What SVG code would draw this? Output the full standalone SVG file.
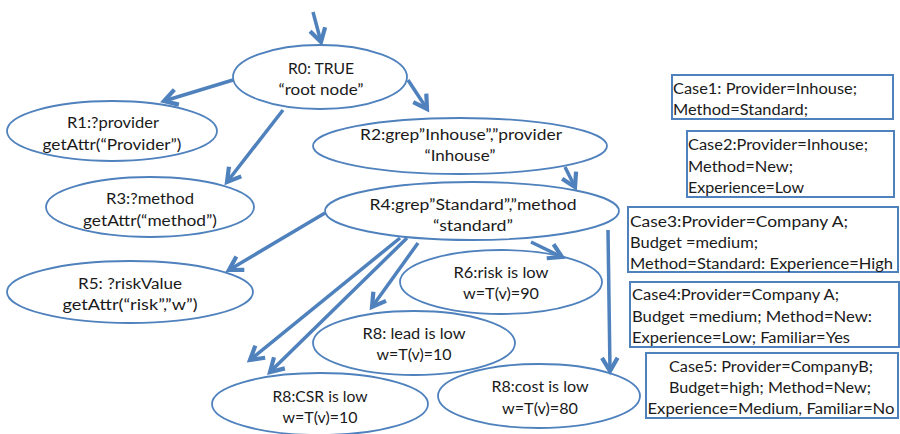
<svg xmlns="http://www.w3.org/2000/svg" width="900" height="434" viewBox="0 0 900 434">
  <style>
    .node ellipse { fill: #ffffff; stroke: #4f81bd; stroke-width: 1.8; }
    .case rect { fill: #ffffff; stroke: #4f81bd; stroke-width: 2; }
    text { font-family: Lato, "Open Sans", "Liberation Sans", sans-serif; font-size: 15.5px; fill: #1a1a1a; }
    .c { text-anchor: middle; }
    .edges line { stroke: #4f81bd; stroke-width: 3.5; marker-end: url(#head); }
  </style>
  <defs>
    <marker id="head" markerUnits="userSpaceOnUse" markerWidth="24" markerHeight="24" viewBox="-14 -10 18 20" refX="0" refY="0" orient="auto">
      <path d="M -11 -6.5 L 0 0 L -11 6.5" fill="none" stroke="#4f81bd" stroke-width="3.5" stroke-linejoin="miter"/>
    </marker>
  </defs>
  <rect width="900" height="434" fill="#ffffff"/>

  <!-- rule tree nodes -->
  <g id="R0" class="node">
    <ellipse cx="320" cy="77" rx="87" ry="32"/>
    <text class="c" x="321" y="74" textLength="66" lengthAdjust="spacingAndGlyphs">R0: TRUE</text>
    <text class="c" x="321" y="95" textLength="85" lengthAdjust="spacingAndGlyphs">“root node”</text>
  </g>
  <g id="R1" class="node">
    <ellipse cx="112" cy="131" rx="105" ry="30"/>
    <text class="c" x="113" y="128" textLength="92" lengthAdjust="spacingAndGlyphs">R1:?provider</text>
    <text class="c" x="112" y="150" textLength="139" lengthAdjust="spacingAndGlyphs">getAttr(“Provider”)</text>
  </g>
  <g id="R2" class="node">
    <ellipse cx="460" cy="146" rx="147" ry="28"/>
    <text class="c" x="461" y="140" textLength="202" lengthAdjust="spacingAndGlyphs">R2:grep”Inhouse”,”provider</text>
    <text class="c" x="460" y="161" textLength="71" lengthAdjust="spacingAndGlyphs">“Inhouse”</text>
  </g>
  <g id="R3" class="node">
    <ellipse cx="150" cy="207" rx="104" ry="30"/>
    <text class="c" x="150" y="204" textLength="88" lengthAdjust="spacingAndGlyphs">R3:?method</text>
    <text class="c" x="150" y="226" textLength="134" lengthAdjust="spacingAndGlyphs">getAttr(“method”)</text>
  </g>
  <g id="R4" class="node">
    <ellipse cx="472" cy="211" rx="147" ry="29"/>
    <text class="c" x="473" y="210" textLength="207" lengthAdjust="spacingAndGlyphs">R4:grep”Standard”,”method</text>
    <text class="c" x="473" y="231" textLength="80" lengthAdjust="spacingAndGlyphs">“standard”</text>
  </g>
  <g id="R5" class="node">
    <ellipse cx="130" cy="292" rx="123" ry="31"/>
    <text class="c" x="130" y="289" textLength="104" lengthAdjust="spacingAndGlyphs">R5: ?riskValue</text>
    <text class="c" x="130" y="310" textLength="135" lengthAdjust="spacingAndGlyphs">getAttr(“risk”,”w”)</text>
  </g>
  <g id="R6" class="node">
    <ellipse cx="501" cy="282" rx="101" ry="32"/>
    <text class="c" x="501" y="278" textLength="95" lengthAdjust="spacingAndGlyphs">R6:risk is low</text>
    <text class="c" x="501" y="299" textLength="76" lengthAdjust="spacingAndGlyphs">w=T(v)=90</text>
  </g>
  <g id="R8-lead" class="node">
    <ellipse cx="414" cy="343" rx="101" ry="32"/>
    <text class="c" x="414" y="339" textLength="103" lengthAdjust="spacingAndGlyphs">R8: lead is low</text>
    <text class="c" x="414" y="360" textLength="75" lengthAdjust="spacingAndGlyphs">w=T(v)=10</text>
  </g>
  <g id="R8-csr" class="node">
    <ellipse cx="320" cy="404" rx="108" ry="31"/>
    <text class="c" x="320" y="402" textLength="95" lengthAdjust="spacingAndGlyphs">R8:CSR is low</text>
    <text class="c" x="320" y="423" textLength="75" lengthAdjust="spacingAndGlyphs">w=T(v)=10</text>
  </g>
  <g id="R8-cost" class="node">
    <ellipse cx="539" cy="396" rx="101" ry="32"/>
    <text class="c" x="540" y="392" textLength="97" lengthAdjust="spacingAndGlyphs">R8:cost is low</text>
    <text class="c" x="540" y="414" textLength="76" lengthAdjust="spacingAndGlyphs">w=T(v)=80</text>
  </g>

  <!-- case boxes -->
  <g id="Case1" class="case">
    <rect x="672" y="75" width="221" height="44"/>
    <text x="673" y="94" textLength="184" lengthAdjust="spacingAndGlyphs">Case1: Provider=Inhouse;</text>
    <text x="673" y="115" textLength="135" lengthAdjust="spacingAndGlyphs">Method=Standard;</text>
  </g>
  <g id="Case2" class="case">
    <rect x="687" y="131" width="207" height="66"/>
    <text x="688" y="150" textLength="180" lengthAdjust="spacingAndGlyphs">Case2:Provider=Inhouse;</text>
    <text x="688" y="172" textLength="105" lengthAdjust="spacingAndGlyphs">Method=New;</text>
    <text x="688" y="193" textLength="116" lengthAdjust="spacingAndGlyphs">Experience=Low</text>
  </g>
  <g id="Case3" class="case">
    <rect x="628" y="207" width="270" height="65"/>
    <text x="630" y="227" textLength="218" lengthAdjust="spacingAndGlyphs">Case3:Provider=Company A;</text>
    <text x="630" y="248" textLength="128" lengthAdjust="spacingAndGlyphs">Budget =medium;</text>
    <text x="630" y="269" textLength="263" lengthAdjust="spacingAndGlyphs">Method=Standard: Experience=High</text>
  </g>
  <g id="Case4" class="case">
    <rect x="630" y="282" width="269" height="65"/>
    <text x="632" y="300" textLength="207" lengthAdjust="spacingAndGlyphs">Case4:Provider=Company A;</text>
    <text x="632" y="322" textLength="240" lengthAdjust="spacingAndGlyphs">Budget =medium; Method=New:</text>
    <text x="632" y="343" textLength="218" lengthAdjust="spacingAndGlyphs">Experience=Low; Familiar=Yes</text>
  </g>
  <g id="Case5" class="case">
    <rect x="646" y="353" width="252" height="65"/>
    <text class="c" x="771" y="372" textLength="204" lengthAdjust="spacingAndGlyphs">Case5: Provider=CompanyB;</text>
    <text class="c" x="770" y="393" textLength="202" lengthAdjust="spacingAndGlyphs">Budget=high; Method=New;</text>
    <text class="c" x="771" y="414" textLength="247" lengthAdjust="spacingAndGlyphs">Experience=Medium, Familiar=No</text>
  </g>

  <!-- connectors -->
  <g id="edges" class="edges">
    <line x1="313" y1="12" x2="321" y2="42"/>
    <line x1="233" y1="80" x2="164" y2="101"/>
    <line x1="283" y1="110" x2="227" y2="182"/>
    <line x1="408" y1="80" x2="427" y2="109"/>
    <line x1="565" y1="167" x2="575" y2="187"/>
    <line x1="325" y1="213" x2="229" y2="270"/>
    <line x1="400" y1="238" x2="250" y2="360"/>
    <line x1="407" y1="238" x2="270" y2="372"/>
    <line x1="418" y1="243" x2="372" y2="307"/>
    <line x1="531" y1="242" x2="562" y2="257"/>
    <line x1="608" y1="230" x2="610" y2="371"/>
  </g>
</svg>
